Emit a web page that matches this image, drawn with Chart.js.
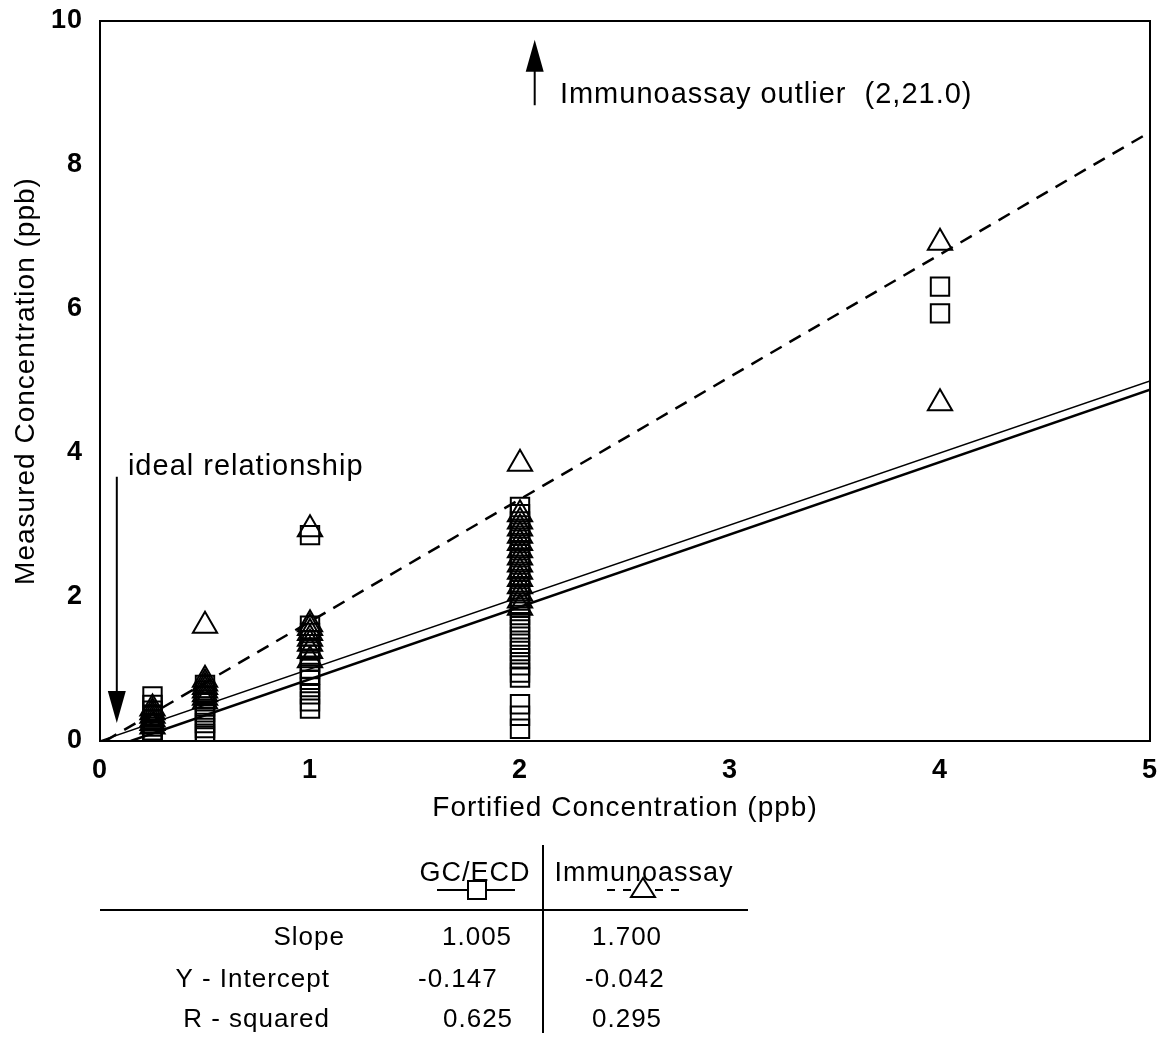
<!DOCTYPE html>
<html>
<head>
<meta charset="utf-8">
<script src="https://cdn.jsdelivr.net/npm/chart.js@4.4.1/dist/chart.umd.min.js"></script>
<style>
body { margin: 0; background: #fff; }
canvas { display: block; }
</style>
</head>
<body>
<canvas id="chart" width="1171" height="1040"></canvas>
<script>
const levels = [0.25, 0.5, 1, 2, 4];
const gcValues = [
  [0.62, 0.5, 0.42, 0.35, 0.3, 0.25, 0.2, 0.15, 0.1, 0.05],
  [0.78, 0.7, 0.62, 0.55, 0.48, 0.4, 0.33, 0.25, 0.18, 0.1, 0.05],
  [2.86, 1.6, 1.5, 1.4, 1.3, 1.2, 1.1, 1.0, 0.92, 0.85, 0.75, 0.65, 0.55, 0.45],
  [3.25, 3.15, 3.05, 2.95, 2.85, 2.75, 2.65, 2.55, 2.45, 2.35, 2.25, 2.15, 2.05, 1.95,
   1.85, 1.75, 1.65, 1.55, 1.45, 1.35, 1.25, 1.15, 1.05, 0.95, 0.88, 0.51, 0.35, 0.17],
  [6.31, 5.94],
];
const immunoValues = [
  [0.45, 0.4, 0.35, 0.3, 0.25, 0.2],
  [1.6, 0.85, 0.8, 0.75, 0.7, 0.65, 0.6, 0.55],
  [2.94, 1.62, 1.57, 1.5, 1.42, 1.35, 1.25, 1.12],
  [3.85, 3.15, 3.05, 2.95, 2.85, 2.75, 2.65, 2.55, 2.45, 2.35, 2.25, 2.15, 2.05, 1.95, 1.85],
  [6.92, 4.69],
];

// regression table
const methods = ["GC/ECD", "Immunoassay"];
const slopes = [1.005, 1.700];
const intercepts = [-0.147, -0.042];
const slopeText = ["1.005", "1.700"];
const interceptText = ["-0.147", "-0.042"];
const r2Text = ["0.625", "0.295"];

const xMax = 5;
const yMax = 10;
const idealSlope = 1;

const FONT = '"Liberation Sans", Arial, sans-serif';

function toPoints(vals) {
  let pts = [];
  for (let i = 0; i < levels.length; i++) {
    for (let v of vals[i]) pts.push({ x: levels[i], y: v });
  }
  return pts;
}

function fitLine(m, b) {
  let x0 = Math.max(0, -b / m);
  return [{ x: x0, y: m * x0 + b }, { x: xMax, y: m * xMax + b }];
}

const extras = {
  id: "extras",
  beforeDraw(chart) {
    chart.ctx.letterSpacing = "1px";
  },
  afterDraw(chart) {
    const ctx = chart.ctx;
    const a = chart.chartArea;
    const xs = chart.scales.x, ys = chart.scales.y;
    ctx.save();
    ctx.strokeStyle = "#000";
    ctx.fillStyle = "#000";
    ctx.lineWidth = 2;
    ctx.strokeRect(a.left, a.top, a.right - a.left, a.bottom - a.top);

    // arrows
    function arrow(xv, fromY, toY) {
      let x = xs.getPixelForValue(xv);
      let y1 = ys.getPixelForValue(fromY), y2 = ys.getPixelForValue(toY);
      let dir = y2 < y1 ? 1 : -1;
      ctx.lineWidth = 2;
      ctx.beginPath();
      ctx.moveTo(x, y1);
      ctx.lineTo(x, y2 + dir * 20);
      ctx.stroke();
      ctx.beginPath();
      ctx.moveTo(x, y2);
      ctx.lineTo(x - 9, y2 + dir * 32);
      ctx.lineTo(x + 9, y2 + dir * 32);
      ctx.closePath();
      ctx.fill();
    }
    arrow(2.07, 8.83, 9.74);
    arrow(0.08, 3.67, 0.25);

    ctx.letterSpacing = "1px";
    ctx.font = "29px " + FONT;
    ctx.textAlign = "left";
    ctx.textBaseline = "alphabetic";
    ctx.fillText("Immunoassay outlier  (2,21.0)", xs.getPixelForValue(2.19), ys.getPixelForValue(8.86));
    ctx.fillText("ideal relationship", xs.getPixelForValue(0.133), ys.getPixelForValue(3.69));

    // stats table under the plot
    ctx.lineWidth = 2;
    ctx.beginPath();
    ctx.moveTo(100, 910); ctx.lineTo(748, 910);
    ctx.moveTo(543, 845); ctx.lineTo(543, 1033);
    ctx.stroke();

    ctx.font = "27px " + FONT;
    ctx.textAlign = "center";
    const colX = [475, 644];
    ctx.fillText(methods[0], colX[0], 881);
    ctx.fillText(methods[1], colX[1], 881);

    // legend keys
    ctx.lineWidth = 2;
    ctx.beginPath();
    ctx.moveTo(437, 890); ctx.lineTo(515, 890);
    ctx.stroke();
    ctx.fillStyle = "#fff";
    ctx.fillRect(468, 881, 18, 18);
    ctx.strokeRect(468, 881, 18, 18);
    ctx.setLineDash([8, 8]);
    ctx.beginPath();
    ctx.moveTo(607, 890); ctx.lineTo(679, 890);
    ctx.stroke();
    ctx.setLineDash([]);
    ctx.beginPath();
    ctx.moveTo(643, 878); ctx.lineTo(655, 897); ctx.lineTo(631, 897);
    ctx.closePath();
    ctx.fill();
    ctx.stroke();
    ctx.fillStyle = "#000";

    ctx.font = "26px " + FONT;
    ctx.textAlign = "right";
    ctx.fillText("Slope", 345, 945);
    ctx.fillText("Y - Intercept", 330, 987);
    ctx.fillText("R - squared", 330, 1027);

    ctx.textAlign = "left";
    ctx.fillText(slopeText[0], 442, 945);
    ctx.fillText(interceptText[0], 418, 987);
    ctx.fillText(r2Text[0], 443, 1027);
    ctx.fillText(slopeText[1], 592, 945);
    ctx.fillText(interceptText[1], 585, 987);
    ctx.fillText(r2Text[1], 592, 1027);
    ctx.restore();
  },
};

const ctx = document.getElementById("chart");

new Chart(ctx, {
  type: "scatter",
  data: {
    datasets: [
      {
        label: "ideal",
        data: [{ x: 0, y: 0 }, { x: xMax, y: idealSlope * xMax }],
        showLine: true,
        borderColor: "#000",
        borderWidth: 1.5,
        pointRadius: 0,
      },
      {
        label: "GC/ECD fit",
        data: fitLine(slopes[0], intercepts[0]),
        showLine: true,
        borderColor: "#000",
        borderWidth: 2.5,
        pointRadius: 0,
      },
      {
        label: "Immunoassay fit",
        data: fitLine(slopes[1], intercepts[1]),
        showLine: true,
        borderColor: "#000",
        borderWidth: 2.5,
        borderDash: [13, 9],
        pointRadius: 0,
      },
      {
        label: "GC/ECD",
        data: toPoints(gcValues),
        pointStyle: "rect",
        pointRadius: 13,
        borderColor: "#000",
        borderWidth: 2,
        backgroundColor: "rgba(255,255,255,0)",
      },
      {
        label: "Immunoassay",
        data: toPoints(immunoValues),
        pointStyle: "triangle",
        pointRadius: 14,
        borderColor: "#000",
        borderWidth: 2,
        backgroundColor: "rgba(255,255,255,0)",
      },
    ],
  },
  options: {
    responsive: false,
    animation: false,
    events: [],
    layout: { autoPadding: false, padding: { top: 21, right: 21, bottom: 215, left: 0 } },
    plugins: { legend: { display: false }, tooltip: { enabled: false } },
    scales: {
      x: {
        type: "linear",
        min: 0,
        max: xMax,
        grid: { display: false, drawTicks: false },
        border: { display: false },
        ticks: { stepSize: 1, color: "#000", padding: 13, font: { family: FONT, size: 27, weight: "bold" } },
        title: {
          display: true,
          text: "Fortified Concentration (ppb)",
          color: "#000",
          padding: { top: 0, bottom: 0 },
          font: { family: FONT, size: 28 },
        },
        afterFit(s) { s.height = 84; s.paddingLeft = 0; s.paddingRight = 0; },
      },
      y: {
        min: 0,
        max: yMax,
        grid: { display: false, drawTicks: false },
        border: { display: false },
        ticks: { stepSize: 2, color: "#000", padding: 17, font: { family: FONT, size: 27, weight: "bold" } },
        title: {
          display: true,
          text: "Measured Concentration (ppb)",
          color: "#000",
          padding: { top: 9, bottom: 0 },
          font: { family: FONT, size: 28 },
        },
        afterFit(s) { s.width = 100; s.paddingTop = 0; s.paddingBottom = 0; },
      },
    },
  },
  plugins: [extras],
});
</script>
</body>
</html>
